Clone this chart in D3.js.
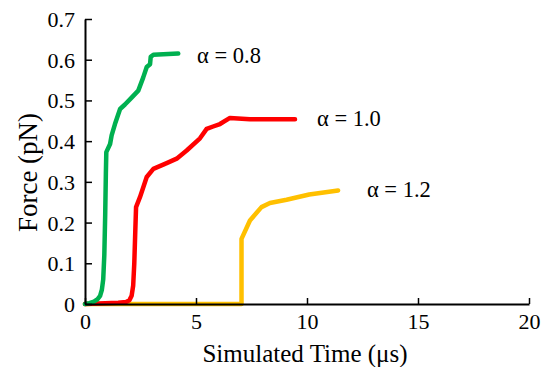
<!DOCTYPE html>
<html>
<head>
<meta charset="utf-8">
<script src="https://cdn.jsdelivr.net/npm/d3@7"></script>
</head>
<body style="margin:0">
<svg width="549" height="367" font-family="Liberation Serif"></svg>
<script>
// data: [time (us), force (pN)]
var alpha08 = [[0,0],[0.2,0.002],[0.4,0.006],[0.55,0.011],[0.68,0.02],[0.76,0.035],[0.82,0.06],
  [0.87,0.12],[0.91,0.22],[0.94,0.32],[0.96,0.373],
  [1.13,0.393],[1.2,0.414],[1.35,0.442],[1.58,0.479],[1.8,0.49],[2.1,0.507],[2.4,0.524],
  [2.62,0.556],[2.78,0.582],[2.93,0.589],[2.96,0.607],[3.08,0.612],[4.2,0.615]];
var alpha10 = [[0,0],[1.5,0.003],[1.85,0.005],[2.0,0.009],[2.1,0.02],[2.17,0.045],[2.22,0.1],
  [2.26,0.17],[2.3,0.238],[2.48,0.263],
  [2.78,0.312],[3.08,0.332],[3.68,0.346],[4.13,0.357],[4.58,0.377],[5.18,0.407],[5.48,0.43],
  [5.77,0.436],[6.08,0.442],[6.53,0.457],[7.43,0.454],[9.46,0.454]];
var alpha12 = [[0,0],[7.05,0],[7.05,0.16],[7.43,0.205],[7.95,0.238],[8.33,0.248],[9.08,0.256],
  [10.1,0.269],[11.4,0.279]];

var seriesNames = ["α = 1.2", "α = 1.0", "α = 0.8"];
var seriesColors = ["#FFC000", "#FF0000", "#00B050"];
// label anchor (time, force) for each series
var labelPos = [[12.7, 0.264], [10.45, 0.438], [5.05, 0.592]];

var xTicks = [0, 5, 10, 15, 20];
var yTicks = [0, 0.1, 0.2, 0.3, 0.4, 0.5, 0.6, 0.7];

var svg = d3.select("svg"),
    margin = {top: 19, right: 20, bottom: 63, left: 85},
    width = +svg.attr("width") - margin.left - margin.right,
    height = +svg.attr("height") - margin.top - margin.bottom,
    g = svg.append("g").attr("transform", "translate(" + margin.left + "," + margin.top + ")");

var x = d3.scaleLinear().domain([0, 20]).range([0, width]),
    y = d3.scaleLinear().domain([0, 0.7]).range([height, 0]);

var line = d3.line()
  .x(function(d) { return x(d[0]); })
  .y(function(d) { return y(d[1]); });

var data = [alpha12, alpha10, alpha08];

g.selectAll(".series")
  .data(data)
  .enter().append("path")
  .attr("class", "series")
  .attr("d", line)
  .attr("fill", "none")
  .attr("stroke", function(d, i) { return seriesColors[i]; })
  .attr("stroke-width", 4.5)
  .attr("stroke-linejoin", "round")
  .attr("stroke-linecap", "round");

// axes, ticks pointing inward
var xAxis = g.append("g")
  .attr("transform", "translate(0," + height + ")")
  .call(d3.axisBottom(x).tickValues(xTicks).tickSizeInner(-6).tickSizeOuter(0).tickPadding(9)
    .tickFormat(d3.format("d")));
var yAxis = g.append("g")
  .call(d3.axisLeft(y).tickValues(yTicks).tickSizeInner(-7).tickSizeOuter(0).tickPadding(10)
    .tickFormat(function(d) { return d === 0 ? "0" : d3.format(".1f")(d); }));

[xAxis, yAxis].forEach(function(a) {
  a.attr("font-family", "Liberation Serif").attr("font-size", 22);
  a.select(".domain").attr("stroke", "#000").attr("stroke-width", 2);
  a.selectAll(".tick line").attr("stroke", "#000").attr("stroke-width", 1.5);
  a.selectAll(".tick text").attr("fill", "#000");
});
xAxis.selectAll(".tick text").attr("dy", "0.71em");
yAxis.selectAll(".tick text").attr("dy", "0.34em");

g.append("text")
  .attr("x", 305 - margin.left)
  .attr("y", 362 - margin.top)
  .attr("text-anchor", "middle")
  .attr("font-size", 25)
  .text("Simulated Time (μs)");

g.append("text")
  .attr("transform", "rotate(-90)")
  .attr("x", -(172.5 - margin.top))
  .attr("y", 37 - margin.left)
  .attr("text-anchor", "middle")
  .attr("font-size", 27)
  .text("Force (pN)");

g.selectAll(".lbl")
  .data(labelPos)
  .enter().append("text")
  .attr("class", "lbl")
  .attr("x", function(d) { return x(d[0]); })
  .attr("y", function(d) { return y(d[1]); })
  .attr("font-size", 22.5)
  .text(function(d, i) { return seriesNames[i]; });
</script>
</body>
</html>
